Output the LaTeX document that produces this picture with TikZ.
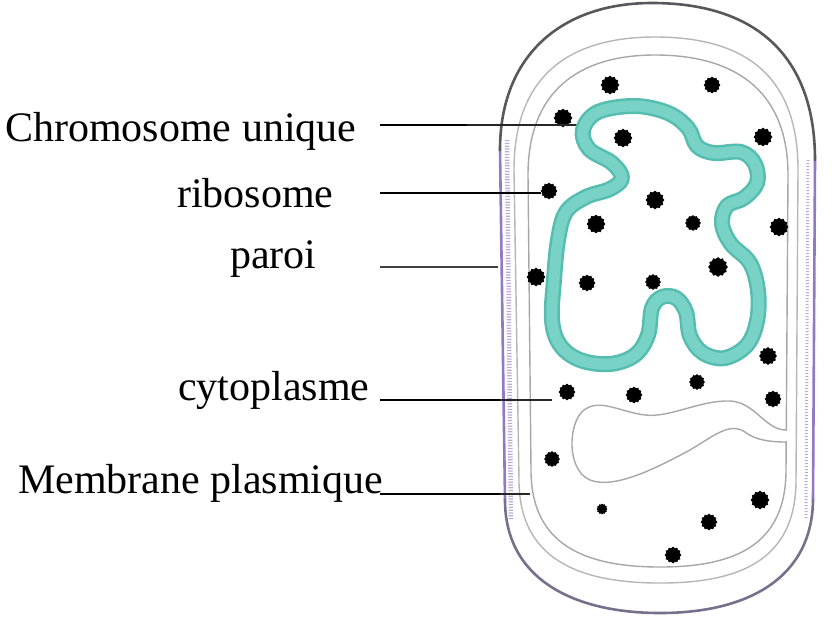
\documentclass[tikz,border=0pt]{standalone}
\usepackage{fontspec}
\setmainfont{Liberation Serif}
\usetikzlibrary{shapes.geometric}
\definecolor{wallpurple}{HTML}{9378C4}
\definecolor{walldark}{HTML}{58585C}
\definecolor{wallbottom}{HTML}{77708C}
\definecolor{walldots}{HTML}{BBA9DA}
\definecolor{membgray}{HTML}{B6B6B6}
\definecolor{chromoedge}{HTML}{55BDB0}
\definecolor{chromofill}{HTML}{78D2C6}
\begin{document}
\begin{tikzpicture}[x=1pt,y=-1pt,
  lbl/.style={anchor=base west, inner sep=0pt, font=\fontsize{42}{50}\selectfont},
  ribo/.style={star, star points=12, star point ratio=1.2, minimum size=#1, inner sep=0pt, fill=black, draw=black, line width=0.6pt},
  ribo/.default=18pt,
  leadthick/.style={line width=2.6pt, black},
  leadthin/.style={line width=1.2pt, black!85},
  contour/.style={line width=1.4pt, membgray, line cap=round},
  wallline/.style={line width=2.6pt, line cap=round},
]
\useasboundingbox (0,0) rectangle (840,622);

% --- cell wall (outer boundary), drawn in four pieces ---
\coordinate (wTL) at (500,150);
\coordinate (wTR) at (815,160);
\coordinate (wBR) at (813,500);
\coordinate (wBL) at (505,500);
% dotted texture inside the wall
\draw[line width=4.5pt, walldots, dash pattern=on 1.2pt off 1.6pt]
  (507,140) -- (511,520);
\draw[line width=3pt, walldots, dash pattern=on 1.2pt off 1.8pt]
  (808,160) -- (806,520);
\draw[wallline, wallpurple] (wTL) -- (wBL);
\draw[wallline, wallpurple] (wTR) -- (wBR);
\draw[wallline, walldark]
  (wTL) .. controls (500,55) and (562,3) .. (652,3)
  .. controls (760,3) and (815,60) .. (wTR);
\draw[wallline, wallbottom]
  (wBR) .. controls (812,578) and (748,613) .. (660,613)
  .. controls (572,613) and (505,578) .. (wBL);

% --- membrane lines ---
\draw[contour]
  (514,170) .. controls (514,75) and (570,37) .. (655,37)
  .. controls (750,37) and (798,80) .. (798,170)
  -- (796,480) .. controls (796,560) and (740,583) .. (660,583)
  .. controls (580,583) and (519,560) .. (519,480) -- cycle;
\draw[contour, membgray!120]
  (528,175) .. controls (528,90) and (580,55) .. (655,55)
  .. controls (740,55) and (788,95) .. (788,175)
  -- (786,470) .. controls (786,545) and (735,567) .. (660,567)
  .. controls (585,567) and (531,545) .. (531,470) -- cycle;
% inclusion pouch opening on the inner membrane
\draw[line width=3pt, white] (786,431) -- (786,441);
\draw[contour, membgray!120]
  (786,430) .. controls (765,430) and (755,402) .. (730,401)
  .. controls (700,400) and (670,418) .. (645,415)
  .. controls (620,412) and (600,398) .. (584,410)
  .. controls (568,422) and (566,470) .. (590,480)
  .. controls (615,490) and (660,466) .. (690,450)
  .. controls (715,435) and (730,422) .. (745,432)
  .. controls (755,440) and (770,442) .. (786,442);

% --- labels ---
\node[lbl] (chr) at (5,141) {Chromosome unique};
\node[lbl] (rib) at (177,207) {ribosome};
\node[lbl] (par) at (230,268) {paroi};
\node[lbl] (cyt) at (178,400) {cytoplasme};
\node[lbl] (mem) at (18,493) {Membrane plasmique};

% --- ribosomes ---
\node[ribo] (r1) at (610,85) {};
\node[ribo=16pt] (r2) at (712,85) {};
\node[ribo] (r3) at (563,118) {};
\node[ribo] (r4) at (623,138) {};
\node[ribo] (r5) at (763,137) {};
\node[ribo=16pt] (r6) at (549,191) {};
\node[ribo] (r7) at (655,200) {};
\node[ribo] (r8) at (596,224) {};
\node[ribo=15pt] (r9) at (693,223) {};
\node[ribo] (r10) at (779,227) {};
\node[ribo] (r11) at (536,277) {};
\node[ribo=16pt] (r12) at (587,283) {};
\node[ribo=15pt] (r13) at (653,282) {};
\node[ribo=19pt] (r14) at (718,267) {};
\node[ribo=17pt] (r15) at (768,356) {};
\node[ribo=16pt] (r16) at (567,392) {};
\node[ribo=16pt] (r17) at (634,395) {};
\node[ribo=15pt] (r18) at (697,382) {};
\node[ribo=16pt] (r19) at (773,399) {};
\node[ribo=15pt] (r20) at (552,459) {};
\node[ribo=10pt] (r21) at (602,509) {};
\node[ribo] (r22) at (760,500) {};
\node[ribo=16pt] (r23) at (709,522) {};
\node[ribo=16pt] (r24) at (673,555) {};

% --- leader lines ---
\coordinate (chrS) at (380,125);
\coordinate (chrK) at (467,125);
\coordinate (chrE) at (584,125);
\coordinate (ribS) at (380,193);
\coordinate (parS) at (380,267);
\coordinate (parE) at (498,267);
\coordinate (cytS) at (380,400);
\coordinate (cytK) at (500,400);
\coordinate (cytE) at (552,400);
\coordinate (memS) at (380,494);
\coordinate (memK) at (500,494);
\coordinate (memE) at (530,494);
\draw[leadthick] (chrS) -- (chrK);
\draw[leadthin] (chrK) -- (chrE);
\draw[leadthick] (ribS) -- (ribS -| r6.west);
\draw[line width=1.2pt, black!75] (parS) -- (parE);
\draw[leadthick] (cytS) -- (cytK);
\draw[leadthin] (cytK) -- (cytE);
\draw[leadthick] (memS) -- (memK);
\draw[leadthin] (memK) -- (memE);

% --- circular chromosome ---
\def\chromopath{plot[smooth cycle, tension=0.6] coordinates {
  (583,130) (598,112) (635,106) (668,113) (688,128) (697,146)
  (714,153) (741,152) (755,164) (757,183) (744,198) (727,206)
  (722,224) (731,244) (750,263) (758,291) (757,321) (747,345)
  (725,358) (703,353) (690,336) (686,312) (676,298) (662,297)
  (652,308) (648,335) (635,355) (610,364) (580,360) (560,345)
  (552,320) (554,280) (558,240) (566,212) (586,197) (610,189)
  (622,178) (612,163) (589,149)}}
\draw[line width=16pt, chromoedge, line join=round] \chromopath;
\draw[line width=11pt, chromofill, line join=round] \chromopath;
\end{tikzpicture}
\end{document}
